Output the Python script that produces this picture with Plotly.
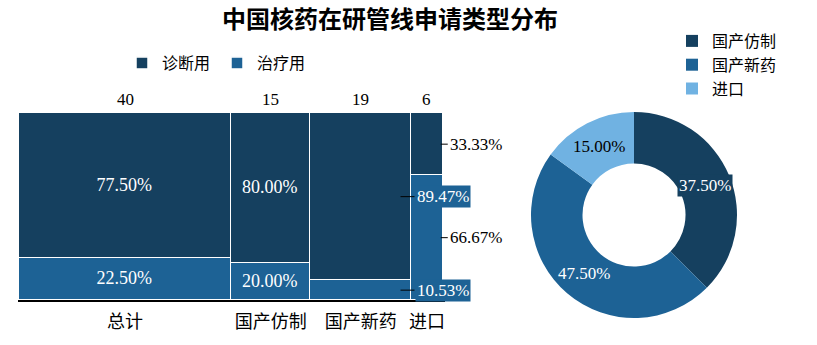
import math
import plotly.graph_objects as go

# ---- data ----
categories = ["总计", "国产仿制", "国产新药", "进口"]
totals = [40, 15, 19, 6]
diag_share = [77.50, 80.00, 89.47, 33.33]    # 诊断用, %
treat_share = [22.50, 20.00, 10.53, 66.67]   # 治疗用, %

pie_labels = ["国产仿制", "国产新药", "进口"]
pie_values = [15, 19, 6]

DARK = "#15405F"
MID = "#1D6295"
LIGHT = "#70B2E2"
NUM_FONT = "Liberation Serif, Noto Sans CJK SC"
CJK_FONT = "Noto Sans CJK SC"

W, H = 817, 345

# marimekko geometry: bar centres and widths along a 0..sum(totals) axis
lefts = []
acc = 0
for t in totals:
    lefts.append(acc)
    acc += t
centers = [l + t / 2 for l, t in zip(lefts, totals)]
total_sum = acc

fig = go.Figure()

fig.add_trace(go.Bar(
    x=centers, y=treat_share, width=totals, name="治疗用",
    marker=dict(color=MID, line=dict(color="white", width=1.5)),
    legend="legend", legendrank=2,
    text=[f"{v:.2f}%" if i < 2 else "" for i, v in enumerate(treat_share)],
    textposition="inside", insidetextanchor="middle",
    textfont=dict(family=NUM_FONT, size=18, color="white"),
    hoverinfo="skip",
))
fig.add_trace(go.Bar(
    x=centers, y=diag_share, width=totals, name="诊断用",
    marker=dict(color=DARK, line=dict(color="white", width=1.5)),
    legend="legend", legendrank=1,
    text=[f"{v:.2f}%" if i < 2 else "" for i, v in enumerate(diag_share)],
    textposition="inside", insidetextanchor="middle",
    textfont=dict(family=NUM_FONT, size=18, color="white"),
    hoverinfo="skip",
))

annotations = []

# count above each column
for c, t in zip(centers, totals):
    annotations.append(dict(
        x=c, y=100, xref="x", yref="y", text=str(t), showarrow=False,
        xanchor="center", yanchor="bottom", yshift=2,
        font=dict(family=NUM_FONT, size=17, color="black"),
    ))

# outside labels for the two narrow columns
for i in (2, 3):
    right = lefts[i] + totals[i]
    mids = [treat_share[i] + diag_share[i] / 2, treat_share[i] / 2]
    vals = [diag_share[i], treat_share[i]]
    boxed = i == 2
    for ym, v in zip(mids, vals):
        annotations.append(dict(
            x=right - (2.0 if boxed else 0.4), y=ym, xref="x", yref="y",
            text=f"{v:.2f}%", showarrow=True, arrowhead=0, arrowwidth=1,
            arrowcolor="black", ax=14 if boxed else 7, ay=0,
            xanchor="left",
            bgcolor=MID if boxed else "rgba(0,0,0,0)",
            borderpad=1,
            font=dict(family=NUM_FONT, size=17,
                      color="white" if boxed else "black"),
        ))

# donut
pie_x0, pie_x1 = 531 / W, 737 / W
pie_y0, pie_y1 = 27 / H, 233 / H
fig.add_trace(go.Pie(
    labels=pie_labels, values=pie_values, hole=0.5, sort=False,
    direction="clockwise", rotation=0,
    marker=dict(colors=[DARK, MID, LIGHT], line=dict(color="white", width=0)),
    textinfo="none", hoverinfo="skip",
    domain=dict(x=[pie_x0, pie_x1], y=[pie_y0, pie_y1]),
    legend="legend2",
))

# donut percentage labels placed at each slice's mid-angle
cx = (pie_x0 + pie_x1) / 2
cy = (pie_y0 + pie_y1) / 2
r_px = 77
pie_sum = sum(pie_values)
cum = 0
label_colors = ["white", "white", "black"]
label_bg = [DARK, "rgba(0,0,0,0)", "rgba(0,0,0,0)"]
for v, col, bg in zip(pie_values, label_colors, label_bg):
    mid = (cum + v / 2) / pie_sum * 2 * math.pi
    cum += v
    annotations.append(dict(
        x=cx + r_px * math.sin(mid) / W, y=cy + r_px * math.cos(mid) / H,
        xref="paper", yref="paper", showarrow=False,
        xanchor="center", yanchor="middle",
        text=f"{v / pie_sum * 100:.2f}%", bgcolor=bg, borderpad=1,
        font=dict(family=NUM_FONT, size=17, color=col),
    ))

fig.update_layout(
    width=W, height=H,
    margin=dict(l=0, r=0, t=0, b=0),
    paper_bgcolor="white", plot_bgcolor="white",
    barmode="stack", bargap=0,
    title=dict(
        text="<b>中国核药在研管线申请类型分布</b>",
        x=390 / W, xanchor="center", y=1 - 20 / H, yanchor="middle",
        font=dict(family=CJK_FONT, size=24, color="black"),
    ),
    xaxis=dict(
        domain=[18 / W, 445 / W], range=[-0.2, total_sum + 0.4],
        tickmode="array", tickvals=centers, ticktext=categories,
        showgrid=False, zeroline=False, showline=True,
        linecolor="black", linewidth=2, ticks="", ticklabelstandoff=4,
        tickfont=dict(family=CJK_FONT, size=18, color="black"),
        fixedrange=True,
    ),
    yaxis=dict(
        domain=[45 / H, 232 / H], range=[0, 100],
        visible=False, fixedrange=True,
    ),
    legend=dict(
        orientation="h", x=122 / W, y=1 - 63 / H, xanchor="left",
        yanchor="middle", traceorder="normal", entrywidth=50,
        font=dict(family=CJK_FONT, size=16, color="black"),
        bgcolor="rgba(0,0,0,0)",
    ),
    legend2=dict(
        orientation="v", x=672 / W, y=1 - 24 / H, xanchor="left",
        yanchor="top",
        font=dict(family=CJK_FONT, size=16, color="black"),
        bgcolor="rgba(0,0,0,0)",
    ),
    annotations=annotations,
    showlegend=True,
)

fig.write_html("out.html")
